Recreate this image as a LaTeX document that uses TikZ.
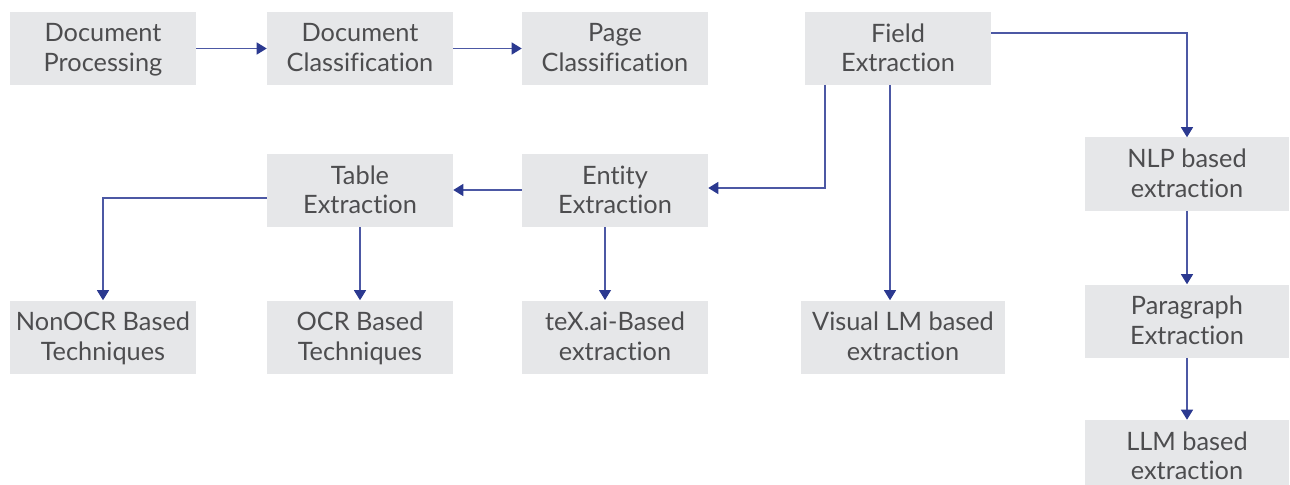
\documentclass[tikz,border=0pt]{standalone}
\usepackage{fontspec}
\setmainfont{Lato}[Ligatures={NoCommon,NoDiscretionary,NoRare}]
\usetikzlibrary{arrows.meta}
\definecolor{boxfill}{HTML}{E6E7E9}
\definecolor{txt}{HTML}{4D4D4F}
\definecolor{ln}{HTML}{4C58A4}
\definecolor{tip}{HTML}{2B3990}
\newcommand\topstrut{\rule{0pt}{16pt}}
\tikzset{
  x=0.75pt, y=-0.75pt,
  box/.style={fill=boxfill, draw=none, text=txt, align=center, inner sep=0pt,
    minimum width=139.5pt, minimum height=54.75pt,
    font=\fontsize{19}{22.1}\selectfont, text depth=1.5pt,
    execute at begin node=\topstrut},
  wide/.style={minimum width=153pt},
  conn/.style={draw=ln, line width=0.9pt, -{Triangle[length=7.5pt,width=9pt,color=tip]}},
}
\begin{document}
\begin{tikzpicture}
\useasboundingbox (0,0) rectangle (1290,485);
\node[box] (dp) at (103,48.5) {Document\\Processing};
\node[box] (dc) at (360,48.5) {Document\\Classification};
\node[box] (pc) at (615,48.5) {Page\\Classification};
\node[box] (fe) at (898,48.5) {Field\\Extraction};
\node[box] (te) at (360,190.5) {Table\\Extraction};
\node[box] (ee) at (615,190.5) {Entity\\Extraction};
\node[box,wide] (nlp) at (1187,174) {NLP based\\extraction};
\node[box,wide] (pe) at (1187,321) {Paragraph\\Extraction};
\node[box,wide] (llm) at (1187,456.5) {LLM based\\extraction};
\node[box] (non) at (103,337) {NonOCR Based\\Techniques};
\node[box] (ocr) at (360,337) {OCR Based\\Techniques};
\node[box] (tex) at (615,337) {teX.ai-Based\\extraction};
\node[box,wide] (vlm) at (903,337) {Visual LM based\\extraction};

\coordinate (feR) at (fe.east |- 0,33);
\coordinate (feA) at (825,85);
\coordinate (feB) at (890,85);
\coordinate (teL) at (te.west |- 0,198);
\coordinate (eeS) at (605,227);
\coordinate (texN) at (605,300);

\draw[conn] (dp.east) -- (dc.west);
\draw[conn] (dc.east) -- (pc.west);
\draw[conn] (feR) -| (nlp.north);
\draw[conn] (feA) |- (ee.east |- 0,188);
\draw[conn] (feB) -- (feB |- vlm.north);
\draw[conn] (ee.west |- 0,190) -- (te.east |- 0,190);
\draw[conn] (teL) -| (non.north);
\draw[conn] (te.south) -- (ocr.north);
\draw[conn] (eeS) -- (texN);
\draw[conn] (nlp.south) -- (pe.north);
\draw[conn] (pe.south) -- (llm.north);
\end{tikzpicture}
\end{document}
